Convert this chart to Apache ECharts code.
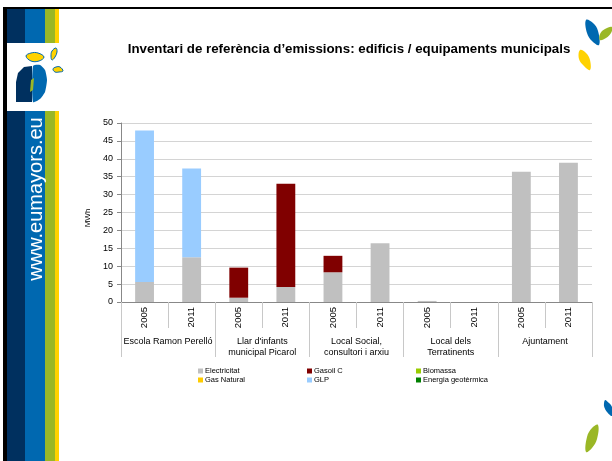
<!DOCTYPE html>
<html>
<head>
<meta charset="utf-8">
<script src="https://cdn.jsdelivr.net/npm/echarts@6/dist/echarts.min.js"></script>
<style>
html,body{margin:0;padding:0;background:#fff;}
#chart{width:612px;height:461px;}
</style>
</head>
<body>
<div id="chart"></div>
<script>
// ---- data ----
const years = ['2005','2011','2005','2011','2005','2011','2005','2011','2005','2011'];
const groups = ['Escola Ramon Perelló', "Llar d'infants\nmunicipal Picarol", 'Local Social,\nconsultori i arxiu', 'Local dels\nTerratinents', 'Ajuntament'];
const electricitat = [5.6, 12.5, 1.2, 4.2, 8.3, 16.4, 0.3, 0, 36.4, 38.9];
const gasoilC      = [0, 0, 8.4, 28.8, 4.6, 0, 0, 0, 0, 0];
const biomassa     = [0, 0, 0, 0, 0, 0, 0, 0, 0, 0];
const gasNatural   = [0, 0, 0, 0, 0, 0, 0, 0, 0, 0];
const glp          = [42.3, 24.8, 0, 0, 0, 0, 0, 0, 0, 0];
const geotermica   = [0, 0, 0, 0, 0, 0, 0, 0, 0, 0];
const yTicks = {min: 0, max: 50, interval: 5};

const FONT = "'Liberation Sans', Arial, sans-serif";
const chart = echarts.init(document.getElementById('chart'), null, {renderer: 'canvas'});

function bar(name, data, color) {
  return {name, type: 'bar', stack: 'total', data, barWidth: '40%',
    itemStyle: {color}, xAxisIndex: 0, yAxisIndex: 0};
}
function leg(left, names) {
  return {orient: 'vertical', left, top: 362, itemWidth: 5, itemHeight: 5, itemGap: 1,
    icon: 'rect', data: names, selectedMode: false,
    textStyle: {fontSize: 7.5, color: '#000', fontFamily: FONT, padding: [0,0,0,-3]}};
}
function poly(points, fill, smooth, stroke) {
  const s = {fill};
  if (stroke) { s.stroke = stroke; s.lineWidth = 1; }
  return {type: 'polygon', shape: {points, smooth: smooth || 0}, style: s, silent: true};
}

const option = {
  animation: false,
  backgroundColor: '#fff',
  textStyle: {fontFamily: FONT},
  title: {
    text: 'Inventari de referència d’emissions: edificis / equipaments municipals',
    left: 344, top: 38, textAlign: 'center',
    textStyle: {fontSize: 13.3, fontWeight: 'bold', color: '#000', fontFamily: FONT}
  },
  legend: [
    leg(193, ['Electricitat', 'Gas Natural']),
    leg(302, ['Gasoil C', 'GLP']),
    leg(411, ['Biomassa', 'Energia geotèrmica'])
  ],
  grid: {left: 121, right: 20, top: 123, bottom: 159, containLabel: false},
  xAxis: [
    {type: 'category', data: years, position: 'bottom', boundaryGap: true,
      axisLine: {show: true, lineStyle: {color: '#888', width: 1}},
      axisTick: {show: true, length: 26, interval: 0, lineStyle: {color: '#c8c8c8'}},
      axisLabel: {rotate: 90, interval: 0, margin: 5, fontSize: 9.5, color: '#000', fontFamily: FONT}},
    {type: 'category', data: groups, position: 'bottom', offset: 26, boundaryGap: true,
      axisLine: {show: false},
      axisTick: {show: true, length: 29, interval: 0, lineStyle: {color: '#c8c8c8'}},
      axisLabel: {interval: 0, margin: 8, fontSize: 9, lineHeight: 11, color: '#000', fontFamily: FONT}}
  ],
  yAxis: {
    type: 'value', min: yTicks.min, max: yTicks.max, interval: yTicks.interval,
    name: 'MWh', nameLocation: 'middle', nameGap: 27, nameRotate: 90,
    nameTextStyle: {fontSize: 8, color: '#000', fontFamily: FONT, padding: [0, 11, 0, 0]},
    axisLine: {show: true, lineStyle: {color: '#888'}},
    axisTick: {show: true, length: 4, lineStyle: {color: '#888'}},
    axisLabel: {fontSize: 9, color: '#000', margin: 8, fontFamily: FONT},
    splitLine: {lineStyle: {color: '#d4d4d4'}}
  },
  series: [
    bar('Electricitat', electricitat, '#C0C0C0'),
    bar('Gasoil C', gasoilC, '#800000'),
    bar('Biomassa', biomassa, '#99CC00'),
    bar('Gas Natural', gasNatural, '#FFCC00'),
    bar('GLP', glp, '#99CCFF'),
    bar('Energia geotèrmica', geotermica, '#008000')
  ],
  graphic: [
    // frame
    {type: 'rect', shape: {x: 3, y: 7, width: 609, height: 2}, style: {fill: '#000'}, silent: true},
    {type: 'rect', shape: {x: 3, y: 7, width: 4, height: 454}, style: {fill: '#000'}, silent: true},
    // banner strips
    {type: 'rect', shape: {x: 7, y: 9, width: 18, height: 452}, style: {fill: '#00305F'}, silent: true},
    {type: 'rect', shape: {x: 25, y: 9, width: 20, height: 452}, style: {fill: '#0068B0'}, silent: true},
    {type: 'rect', shape: {x: 45, y: 9, width: 10, height: 452}, style: {fill: '#9AB726'}, silent: true},
    {type: 'rect', shape: {x: 55, y: 9, width: 4, height: 452}, style: {fill: '#FFD200'}, silent: true},
    // logo box
    {type: 'rect', shape: {x: 7, y: 43, width: 54, height: 68}, style: {fill: '#fff'}, silent: true},
    poly([[32,66],[24,67],[18,73],[16,82],[16,102],[32,102]], '#00305F'),
    poly([[33,66],[40,65],[45,70],[47,80],[45,92],[40,99],[33,102]], '#0068B0', 0.2),
    poly([[31,80],[34,78],[33,90],[30,92]], '#9AB726'),
    poly([[26,56],[31,53],[38,53],[44,57],[39,61],[31,61]], '#FFD200', 0.4, '#0068B0'),
    poly([[56,48],[52,51],[51,56],[52,60],[55,57],[57,52]], '#FFD200', 0.4, '#0068B0'),
    poly([[53,69],[56,67],[60,67],[63,71],[59,72],[55,72]], '#FFD200', 0.4, '#0068B0'),
    // vertical site text
    {type: 'text', x: 36, y: 199, rotation: Math.PI / 2,
      style: {text: 'www.eumayors.eu', fill: '#fff', font: '20px ' + FONT, align: 'center', verticalAlign: 'middle'}, silent: true},
    // top-right logo
    poly([[586,20],[593,23],[598,31],[599,45],[592,41],[587,33]], '#0068B0', 0.4),
    poly([[612,27],[605,29],[600,34],[600,40],[606,38],[611,33]], '#9AB726', 0.4),
    poly([[580,50],[586,53],[590,60],[590,70],[584,66],[579,59]], '#FFD200', 0.4),
    // bottom-right logo
    poly([[605,400],[609,403],[612,407],[612,416],[607,412],[604,406]], '#0068B0', 0.3),
    poly([[598,425],[592,428],[587,437],[586,452],[592,448],[597,439]], '#9AB726', 0.4)
  ]
};
chart.setOption(option);
</script>
</body>
</html>
